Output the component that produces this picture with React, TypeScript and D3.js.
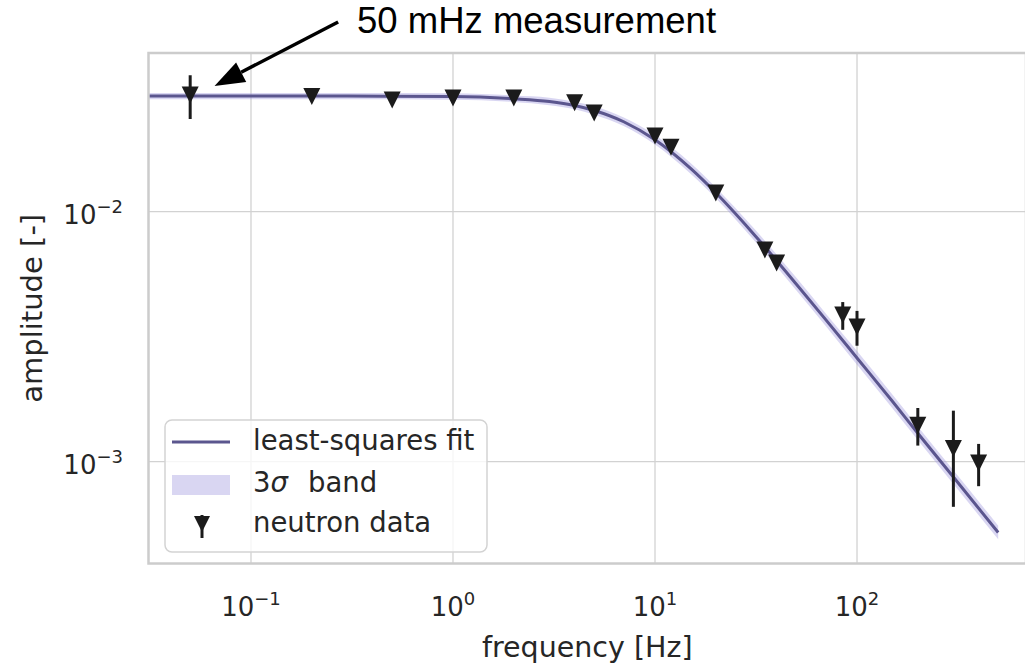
import React from "react";
import * as d3 from "d3";

// neutron data: frequency [Hz], amplitude, 1-sigma error
const freq = [0.05, 0.2, 0.5, 1, 2, 4, 5, 10, 12, 20, 35, 40, 85, 100, 200, 300, 400];
const amp = [0.0293, 0.0289, 0.028, 0.0285, 0.0285, 0.0273, 0.0248, 0.0201, 0.0181, 0.01188, 0.00703, 0.00623, 0.00386, 0.00346, 0.0014, 0.00113, 0.000988];
const ampErr = [0.0058, 0.0006, 0.0006, 0.0006, 0.0006, 0.0005, 0.0005, 0.0004, 0.0004, 0.0002, 0.0001, 0.0001, 0.00049, 0.00055, 0.00024, 0.00047, 0.00019];

// least-squares fit and its 3 sigma band
const fitFreq = [0.03, 0.1, 0.3, 1, 2, 3, 4, 5, 7, 10, 15, 20, 30, 50, 70, 100, 150, 200, 300, 500];
const fitAmp = [0.029, 0.029, 0.029, 0.0289, 0.0283, 0.0276, 0.0266, 0.0254, 0.0229, 0.0194, 0.0149, 0.0119, 0.00834, 0.00514, 0.0037, 0.0026, 0.00174, 0.0013, 0.000868, 0.000521];
const bandHigh = [0.02987, 0.02987, 0.02987, 0.02977, 0.02915, 0.02857, 0.02753, 0.02642, 0.02382, 0.02027, 0.01565, 0.0125, 0.0088, 0.00545, 0.00392, 0.00277, 0.001853, 0.001384, 0.000924, 0.000555];
const bandLow = [0.02816, 0.02816, 0.02816, 0.02806, 0.02748, 0.02667, 0.0257, 0.02442, 0.02202, 0.01856, 0.01419, 0.01133, 0.00791, 0.00485, 0.00349, 0.00244, 0.001634, 0.001221, 0.000815, 0.000489];

const xTicks = [0.1, 1, 10, 100];
const xTickExp = ["\u22121", "0", "1", "2"];
const yTicks = [0.001, 0.01];
const yTickExp = ["\u22123", "\u22122"];

// annotation, in data coordinates
const noteText = "50 mHz measurement";
const noteTip = [0.066, 0.0318];
const noteTail = [0.27, 0.0574];

const W = 1025;
const H = 666;
const left = 148.5;
const right = 1026;
const top = 53;
const bottom = 563.5;

const font = "'DejaVu Sans', sans-serif";
const textColor = "#262626";
const gridColor = "#d2d2d2";
const lineColor = "#5b568e";
const bandColor = "#a49de0";
const bandOpacity = 0.42;

export default function App() {
  const x = d3.scaleLog().domain([10 ** -1.5074, 10 ** 2.8366]).range([left, right]);
  const y = d3.scaleLog().domain([10 ** -3.4072, 10 ** -1.3652]).range([bottom, top]);

  const fitLine = d3
    .line<number>()
    .x((d, i) => x(fitFreq[i]))
    .y(d => y(d))
    .curve(d3.curveMonotoneX);

  const band = d3
    .area<number>()
    .x((d, i) => x(fitFreq[i]))
    .y0((d, i) => y(bandLow[i]))
    .y1((d, i) => y(bandHigh[i]))
    .curve(d3.curveMonotoneX);

  const tri = (cx: number, cy: number, s = 8.5) =>
    `M${cx - s},${cy - s}L${cx + s},${cy - s}L${cx},${cy + s}Z`;

  // arrow of the annotation
  const tx = x(noteTip[0]);
  const ty = y(noteTip[1]);
  const sx = x(noteTail[0]);
  const sy = y(noteTail[1]);
  const len = Math.hypot(tx - sx, ty - sy);
  const ux = (tx - sx) / len;
  const uy = (ty - sy) / len;
  const headL = 30;
  const headW = 11;
  const bx = tx - headL * ux;
  const by = ty - headL * uy;
  const head = `M${tx},${ty}L${bx - headW * uy},${by + headW * ux}L${bx + headW * uy},${by - headW * ux}Z`;

  return (
    <svg width={W} height={H} style={{ position: "absolute", left: 0, top: 0, background: "#fff" }}>
      <defs>
        <clipPath id="plot">
          <rect x={left} y={top} width={right - left} height={bottom - top} />
        </clipPath>
      </defs>

      {/* grid */}
      <g stroke={gridColor} strokeWidth={1.3}>
        {xTicks.map(t => (
          <line key={"gx" + t} x1={x(t)} x2={x(t)} y1={top} y2={bottom} />
        ))}
        {yTicks.map(t => (
          <line key={"gy" + t} x1={left} x2={right} y1={y(t)} y2={y(t)} />
        ))}
      </g>

      {/* fit and band */}
      <g clipPath="url(#plot)">
        <path d={band(fitAmp) || ""} fill={bandColor} fillOpacity={bandOpacity} />
        <path d={fitLine(fitAmp) || ""} fill="none" stroke={lineColor} strokeWidth={3} />
        <g stroke="#1b1b1b" strokeWidth={3}>
          {freq.map((f, i) => (
            <line key={"e" + f} x1={x(f)} x2={x(f)} y1={y(amp[i] + ampErr[i])} y2={y(amp[i] - ampErr[i])} />
          ))}
        </g>
        {freq.map((f, i) => (
          <path key={"m" + f} d={tri(x(f), y(amp[i]))} fill="#1b1b1b" />
        ))}
      </g>

      {/* frame */}
      <rect x={left} y={top} width={right - left} height={bottom - top} fill="none" stroke="#cccccc" strokeWidth={2.5} />

      {/* tick labels */}
      <g fontFamily={font} fill={textColor} fontSize={26}>
        {xTicks.map((t, i) => (
          <text key={"tx" + t} x={x(t)} y={616} textAnchor="middle">
            <tspan>10</tspan>
            <tspan dy={-11} fontSize={18}>{xTickExp[i]}</tspan>
          </text>
        ))}
        {yTicks.map((t, i) => (
          <text key={"ty" + t} x={123} y={y(t) + 12} textAnchor="end">
            <tspan>10</tspan>
            <tspan dy={-11} fontSize={18}>{yTickExp[i]}</tspan>
          </text>
        ))}
      </g>

      {/* axis labels */}
      <text x={(left + right) / 2} y={657} textAnchor="middle" fontFamily={font} fontSize={28.5} fill={textColor}>
        frequency [Hz]
      </text>
      <text
        transform={`translate(42,${(top + bottom) / 2}) rotate(-90)`}
        textAnchor="middle"
        fontFamily={font}
        fontSize={29}
        fill={textColor}
      >
        amplitude [-]
      </text>

      {/* legend */}
      <g fontFamily={font} fontSize={27.5} fill={textColor}>
        <rect x={165} y={420} width={322} height={132} rx={7} fill="#fff" fillOpacity={0.8} stroke="#d3d3d3" strokeWidth={1.5} />
        <line x1={172} x2={230} y1={442} y2={442} stroke={lineColor} strokeWidth={3} />
        <text x={253} y={450}>least-squares fit</text>
        <rect x={172} y={475} width={58} height={20} fill={bandColor} fillOpacity={bandOpacity} />
        <text x={253} y={492}>
          <tspan>3</tspan>
          <tspan fontStyle="italic">σ</tspan>
          <tspan x={308}>band</tspan>
        </text>
        <line x1={202} x2={202} y1={515} y2={538} stroke="#1b1b1b" strokeWidth={3} />
        <path d={tri(202, 524, 8)} fill="#1b1b1b" />
        <text x={253} y={532}>neutron data</text>
      </g>

      {/* annotation */}
      <line x1={sx} y1={sy} x2={bx} y2={by} stroke="#000" strokeWidth={3.5} />
      <path d={head} fill="#000" />
      <text x={357} y={33} fontFamily="'Liberation Sans', Arial, sans-serif" fontSize={36.5} fill="#000">
        {noteText}
      </text>
    </svg>
  );
}
